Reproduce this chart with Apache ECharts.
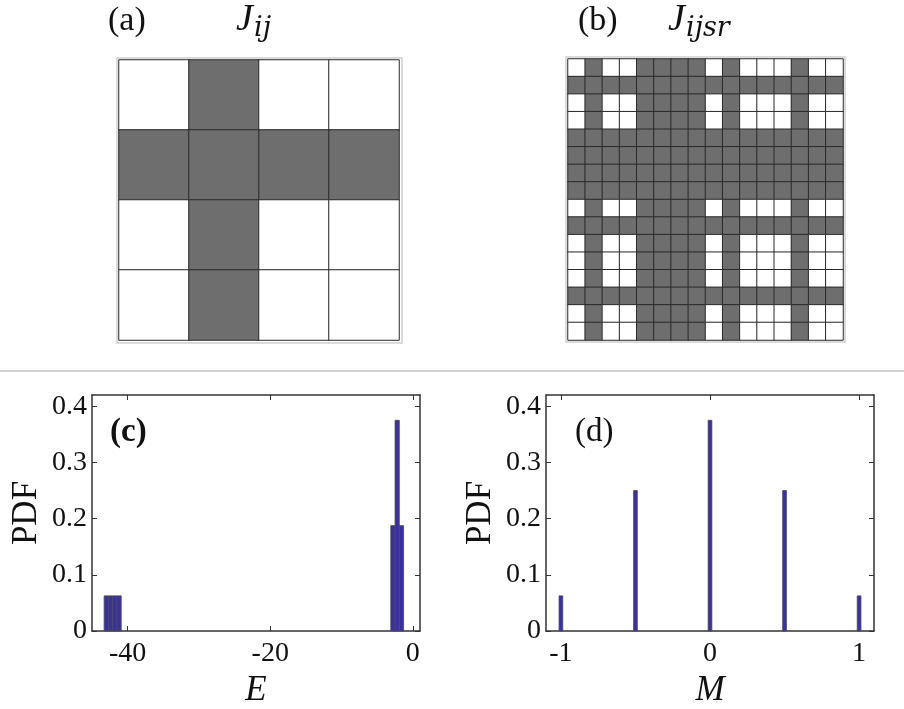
<!DOCTYPE html>
<html>
<head>
<meta charset="utf-8">
<script src="https://cdn.jsdelivr.net/npm/echarts@6/dist/echarts.min.js"></script>
<style>html,body{margin:0;padding:0;background:#fff;}#c{width:904px;height:709px;}</style>
</head>
<body>
<div id="c"></div>
<script>
// ---- data ----
const matrixA = [
  [0,1,0,0],
  [1,1,1,1],
  [0,1,0,0],
  [0,1,0,0]
];
const matrixB = [
  [0,1,0,0,1,1,1,1,0,1,0,0,0,1,0,0],
  [1,1,1,1,1,1,1,1,1,1,1,1,1,1,1,1],
  [0,1,0,0,1,1,1,1,0,1,0,0,0,1,0,0],
  [0,1,0,0,1,1,1,1,0,1,0,0,0,1,0,0],
  [1,1,1,1,1,1,1,1,1,1,1,1,1,1,1,1],
  [1,1,1,1,1,1,1,1,1,1,1,1,1,1,1,1],
  [1,1,1,1,1,1,1,1,1,1,1,1,1,1,1,1],
  [1,1,1,1,1,1,1,1,1,1,1,1,1,1,1,1],
  [0,1,0,0,1,1,1,1,0,1,0,0,0,1,0,0],
  [1,1,1,1,1,1,1,1,1,1,1,1,1,1,1,1],
  [0,1,0,0,1,1,1,1,0,1,0,0,0,1,0,0],
  [0,1,0,0,1,1,1,1,0,1,0,0,0,1,0,0],
  [0,1,0,0,1,1,1,1,0,1,0,0,0,1,0,0],
  [1,1,1,1,1,1,1,1,1,1,1,1,1,1,1,1],
  [0,1,0,0,1,1,1,1,0,1,0,0,0,1,0,0],
  [0,1,0,0,1,1,1,1,0,1,0,0,0,1,0,0]
];
const eCenters = [-43.0,-42.4,-41.8,-41.2,-2.8,-2.2,-1.6];
const ePdf = [0.0625,0.0625,0.0625,0.0625,0.1875,0.375,0.1875];
const eBinWidth = 0.6;
const mCenters = [-1,-0.5,0,0.5,1];
const mPdf = [0.0625,0.25,0.375,0.25,0.0625];
const mBinWidth = 0.025;
const eTicks = [-40,-20,0];
const mTicks = [-1,0,1];
const pdfTicks = [0,0.1,0.2,0.3,0.4];

// ---- build ----
function toCells(m){const out=[];m.forEach((row,r)=>row.forEach((v,c)=>out.push([c,r,v])));return out;}
const idx = n => Array.from({length:n},(_,i)=>String(i));

const SERIF = 'Liberation Serif';
const BAR = '#3a2fa6';
const GRAY = '#6e6e6e';
const AX = '#333';

function histRender(w){
  return function(params, api){
    const x = api.value(0), y = api.value(1);
    const p0 = api.coord([x - w/2, y]);
    const p1 = api.coord([x + w/2, 0]);
    return {type:'rect', shape:{x:p0[0], y:p0[1], width:p1[0]-p0[0], height:p1[1]-p0[1]},
      style:{fill:BAR, stroke:'#4a4a5a', lineWidth:0.8}};
  };
}

function valX(gi, min, max, ticks, name, show){
  return {type:'value', gridIndex:gi, min:min, max:max, position: show?'bottom':'top',
    axisLine:{show:true, onZero:false, lineStyle:{color:AX, width:1.5}},
    axisTick:{show:true, inside:true, length:5, customValues:ticks, lineStyle:{color:AX}},
    axisLabel:{show:show, customValues:ticks, margin:9, color:'#111', fontFamily:SERIF, fontSize:28},
    splitLine:{show:false},
    name: show?name:'', nameLocation:'middle', nameGap:42,
    nameTextStyle:{fontFamily:SERIF, fontStyle:'italic', fontSize:35, color:'#111'}};
}
function valY(gi, show){
  return {type:'value', gridIndex:gi, min:0, max:0.42, position: show?'left':'right',
    axisLine:{show:true, onZero:false, lineStyle:{color:AX, width:1.5}},
    axisTick:{show:true, inside:true, length:5, customValues:pdfTicks, lineStyle:{color:AX}},
    axisLabel:{show:show, customValues:pdfTicks, margin:5, color:'#111', fontFamily:SERIF, fontSize:28,
      formatter:v=>String(Math.round(v*10)/10)},
    splitLine:{show:false},
    name: show?'PDF':'', nameLocation:'middle', nameGap:48,
    nameTextStyle:{fontFamily:SERIF, fontSize:35, color:'#111'}};
}
function catAxis(gi, n, inv){
  return {type:'category', gridIndex:gi, data:idx(n), inverse:!!inv,
    axisLine:{show:false}, axisTick:{show:false}, axisLabel:{show:false}, splitLine:{show:false}};
}

const option = {
  animation:false,
  backgroundColor:'#fff',
  grid:[
    {left:119, top:60, width:280, height:280},
    {left:568, top:59, width:275, height:281},
    {left:92, top:395, width:328, height:238},
    {left:546, top:395, width:328, height:238}
  ],
  xAxis:[
    catAxis(0,4), catAxis(1,16),
    valX(2,-45,1,eTicks,'E',true), valX(3,-1.1,1.1,mTicks,'M',true),
    valX(2,-45,1,eTicks,'',false), valX(3,-1.1,1.1,mTicks,'',false)
  ],
  yAxis:[
    catAxis(0,4,true), catAxis(1,16,true),
    valY(2,true), valY(3,true), valY(2,false), valY(3,false)
  ],
  visualMap:{type:'piecewise', show:false, seriesIndex:[0,1], dimension:2,
    pieces:[{value:0, color:'#ffffff'},{value:1, color:GRAY}]},
  series:[
    {type:'heatmap', xAxisIndex:0, yAxisIndex:0, data:toCells(matrixA),
      itemStyle:{borderColor:'#2a2a2a', borderWidth:1}},
    {type:'heatmap', xAxisIndex:1, yAxisIndex:1, data:toCells(matrixB),
      itemStyle:{borderColor:'#2a2a2a', borderWidth:1}},
    {type:'custom', xAxisIndex:2, yAxisIndex:2, renderItem:histRender(eBinWidth),
      encode:{x:0,y:1}, data:eCenters.map((c,i)=>[c,ePdf[i]])},
    {type:'custom', xAxisIndex:3, yAxisIndex:3, renderItem:histRender(mBinWidth),
      encode:{x:0,y:1}, data:mCenters.map((c,i)=>[c,mPdf[i]])}
  ],
  graphic:[
    {type:'line', shape:{x1:0,y1:371,x2:904,y2:371}, style:{stroke:'#d2d2d2', lineWidth:2}},
    {type:'rect', shape:{x:117,y:58,width:285,height:285}, style:{fill:null, stroke:'#cfcfcf', lineWidth:1.5}, z:-1},
    {type:'rect', shape:{x:566,y:57,width:279,height:285}, style:{fill:null, stroke:'#cfcfcf', lineWidth:1.5}, z:-1},
    {type:'text', left:108, top:4, style:{text:'(a)', font:'34px "Liberation Serif"', fill:'#111'}},
    {type:'text', left:236, top:1, style:{text:'J', font:'italic 38px "Liberation Serif"', fill:'#111'}},
    {type:'text', left:254, top:15, style:{text:'ij', font:'italic 27px "DejaVu Serif"', fill:'#111'}},
    {type:'text', left:578, top:4, style:{text:'(b)', font:'34px "Liberation Serif"', fill:'#111'}},
    {type:'text', left:668, top:1, style:{text:'J', font:'italic 38px "Liberation Serif"', fill:'#111'}},
    {type:'text', left:686, top:15, style:{text:'ijsr', font:'italic 27px "DejaVu Serif"', fill:'#111'}},
    {type:'text', left:110, top:416, style:{text:'(c)', font:'bold 33px "Liberation Serif"', fill:'#111'}},
    {type:'text', left:575, top:416, style:{text:'(d)', font:'33px "Liberation Serif"', fill:'#111'}}
  ]
};
const chart = echarts.init(document.getElementById('c'), null, {renderer:'canvas'});
chart.setOption(option);
</script>
</body>
</html>
